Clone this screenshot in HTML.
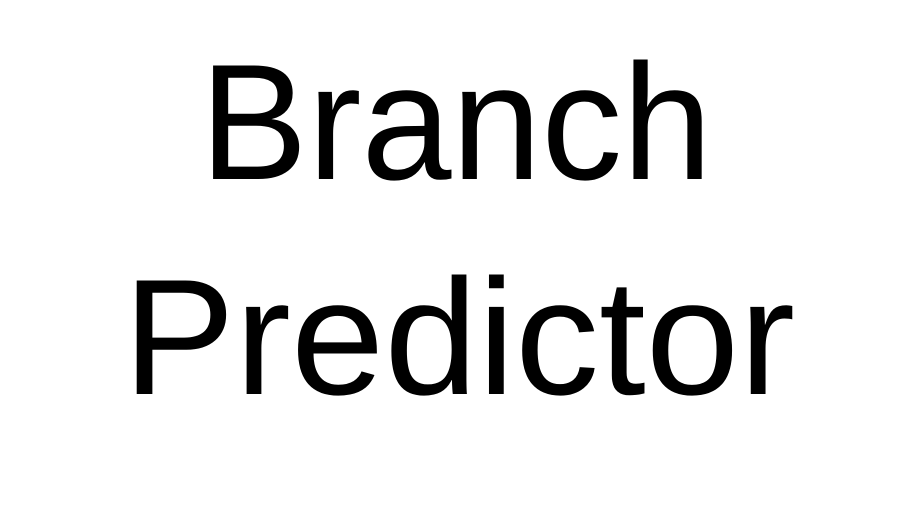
<!DOCTYPE html>
<html><head><meta charset="utf-8"><style>
html,body{margin:0;padding:0;background:#fff;}
body{width:914px;height:516px;position:relative;overflow:hidden;font-family:"Liberation Sans",sans-serif;color:#000;}
.t{position:absolute;left:0;width:914px;text-align:center;font-size:165px;line-height:165px;white-space:nowrap;}
</style></head><body>
<div class="t" style="top:40px;left:-1px;transform:scaleX(0.98)">Branch</div>
<div class="t" style="top:255px;left:2px;transform:scaleX(1.018)">Predictor</div>
</body></html>
